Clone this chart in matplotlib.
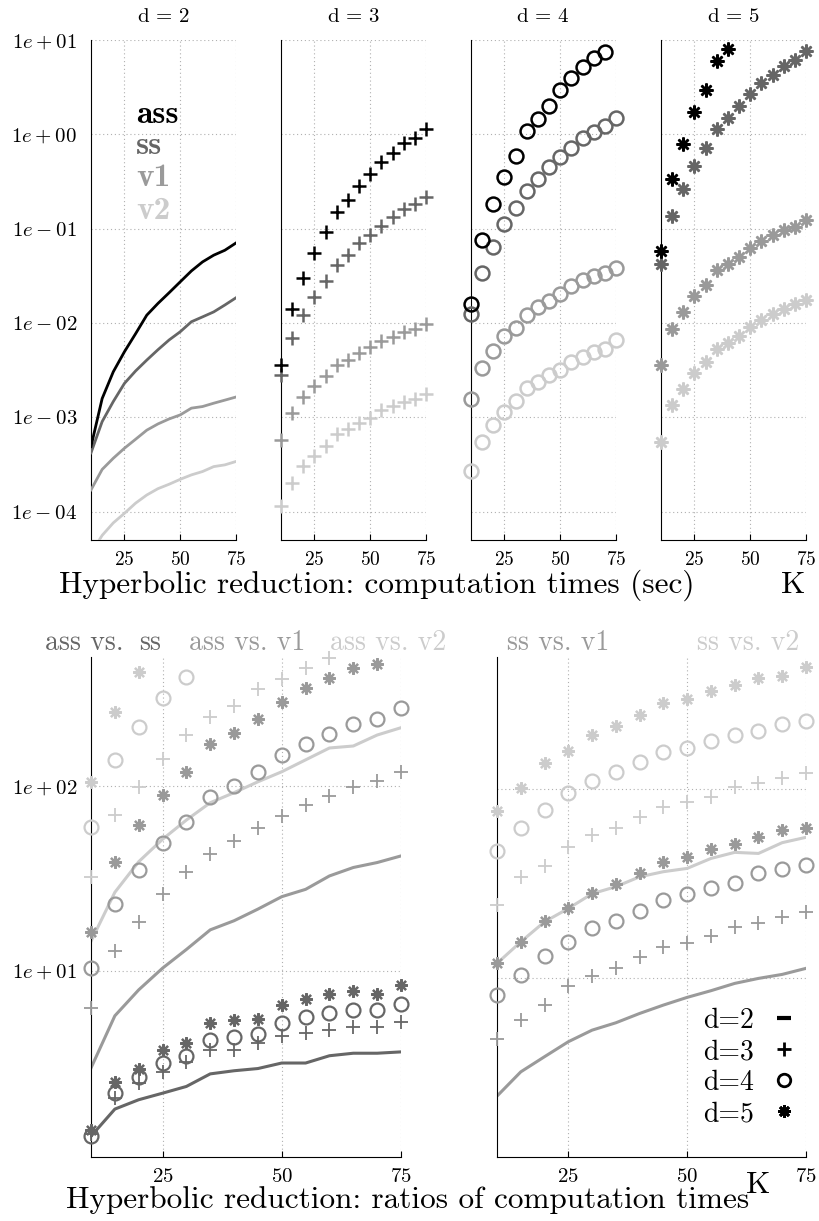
import numpy as np
import matplotlib
matplotlib.use("Agg")
import matplotlib.pyplot as plt
from matplotlib.lines import Line2D
from matplotlib.ticker import NullLocator

plt.rcParams['font.family'] = ['cmr10']
plt.rcParams['mathtext.fontset'] = 'cm'
plt.rcParams['axes.unicode_minus'] = False
plt.rcParams['axes.formatter.use_mathtext'] = True

# number of clusters K
K = [10, 15, 20, 25, 30, 35, 40, 45, 50, 55, 60, 65, 70, 75]

# computation times (sec), one list per method and dimension
time_ass_d2 = [4.9e-4, 1.58e-3, 3.04e-3, 4.96e-3, 7.7e-3, 0.0121, 0.0161, 0.0209, 0.0273, 0.0356, 0.0444, 0.0523, 0.059, 0.0705]
time_ss_d2 = [4.2e-4, 9.0e-4, 1.47e-3, 2.29e-3, 3.1e-3, 4.04e-3, 5.2e-3, 6.6e-3, 8.07e-3, 0.0103, 0.0116, 0.0131, 0.0155, 0.0185]
time_v1_d2 = [1.7e-4, 2.8e-4, 3.68e-4, 4.7e-4, 5.85e-4, 7.3e-4, 8.5e-4, 9.6e-4, 1.06e-3, 1.25e-3, 1.3e-3, 1.41e-3, 1.52e-3, 1.64e-3]
time_v2_d2 = [3.6e-5, 5.6e-5, 7.6e-5, 9.6e-5, 1.23e-4, 1.5e-4, 1.75e-4, 1.95e-4, 2.2e-4, 2.45e-4, 2.66e-4, 3.0e-4, 3.13e-4, 3.4e-4]

time_ass_d3 = [3.6e-3, 0.0141, 0.0298, 0.0547, 0.0927, 0.151, 0.202, 0.284, 0.384, 0.51, 0.63, 0.80, 0.91, 1.15]
time_ss_d3 = [2.78e-3, 6.9e-3, 0.012, 0.019, 0.0281, 0.0412, 0.053, 0.0698, 0.0855, 0.107, 0.134, 0.161, 0.182, 0.214]
time_v1_d3 = [5.8e-4, 1.12e-3, 1.64e-3, 2.13e-3, 2.72e-3, 3.55e-3, 4.0e-3, 4.8e-3, 5.55e-3, 6.4e-3, 7.1e-3, 8.0e-3, 8.7e-3, 9.8e-3]
time_v2_d3 = [1.15e-4, 2.02e-4, 3.03e-4, 3.87e-4, 4.94e-4, 6.7e-4, 7.5e-4, 8.7e-4, 9.8e-4, 1.19e-3, 1.31e-3, 1.45e-3, 1.58e-3, 1.78e-3]

time_ass_d4 = [0.016, 0.076, 0.182, 0.357, 0.59, 1.08, 1.44, 1.99, 2.94, 3.97, 5.14, 6.45, 7.47, 10.1]
time_ss_d4 = [0.01255, 0.034, 0.0645, 0.112, 0.165, 0.252, 0.335, 0.452, 0.576, 0.723, 0.908, 1.07, 1.22, 1.48]
time_v1_d4 = [1.56e-3, 3.3e-3, 5.0e-3, 7.3e-3, 8.86e-3, 0.012, 0.0148, 0.0171, 0.0204, 0.0244, 0.0282, 0.0311, 0.0337, 0.0384]
time_v2_d4 = [2.7e-4, 5.5e-4, 8.3e-4, 1.15e-3, 1.5e-3, 2.02e-3, 2.38e-3, 2.8e-3, 3.21e-3, 3.87e-3, 4.37e-3, 4.94e-3, 5.36e-3, 6.56e-3]

time_ass_d5 = [0.0586, 0.34, 0.796, 1.74, 2.94, 5.95, 8.1, 11.4, 17.3, 24.2, 32.0, 40.9, 45.6, 63.6]
time_ss_d5 = [0.0423, 0.135, 0.262, 0.463, 0.723, 1.13, 1.48, 1.99, 2.65, 3.46, 4.3, 5.27, 6.1, 7.6]
time_v1_d5 = [3.57e-3, 8.7e-3, 0.0131, 0.0193, 0.025, 0.0366, 0.0423, 0.0498, 0.062, 0.0734, 0.0865, 0.0968, 0.103, 0.124]
time_v2_d5 = [5.5e-4, 1.35e-3, 1.98e-3, 2.92e-3, 3.81e-3, 5.36e-3, 6.15e-3, 7.23e-3, 9.08e-3, 0.0107, 0.0124, 0.0142, 0.0157, 0.0176]

# ratios of computation times
ratio_ass_ss_d2 = [1.27, 1.78, 2.0, 2.17, 2.36, 2.76, 2.87, 2.95, 3.16, 3.16, 3.46, 3.57, 3.57, 3.63]
ratio_ass_ss_d3 = [1.3, 2.05, 2.46, 2.84, 3.22, 3.72, 3.72, 4.05, 4.43, 4.62, 4.74, 4.98, 4.98, 5.3]
ratio_ass_ss_d4 = [1.27, 2.17, 2.65, 3.16, 3.46, 4.22, 4.35, 4.55, 5.19, 5.64, 5.88, 6.13, 6.13, 6.6]
ratio_ass_ss_d5 = [1.38, 2.48, 2.94, 3.72, 4.08, 5.19, 5.37, 5.46, 6.52, 7.0, 7.45, 7.76, 7.48, 8.37]

ratio_ass_v1_d2 = [2.97, 5.69, 7.86, 10.3, 13.0, 16.6, 18.6, 21.5, 25.1, 27.5, 32.5, 36.1, 38.4, 41.7]
ratio_ass_v1_d3 = [6.25, 12.7, 18.2, 26.1, 34.0, 42.8, 50.5, 59.3, 68.6, 78.6, 87.9, 98.8, 106, 119]
ratio_ass_v1_d4 = [10.3, 22.9, 34.8, 48.8, 63.8, 86.5, 100, 119, 147, 168, 190, 215, 231, 262]
ratio_ass_v1_d5 = [16.1, 38.8, 61.2, 89, 118, 168, 194, 229, 284, 336, 384, 431, 458, 540]

ratio_ass_v2_d2 = [14.4, 26.5, 38.8, 51.3, 65.2, 80.9, 91.7, 105, 119, 138, 160, 164, 188, 206]
ratio_ass_v2_d3 = [32.2, 69.4, 98, 140, 189, 234, 270, 332, 380, 431, 488, 552, 576, 646]
ratio_ass_v2_d4 = [59.6, 137, 207, 300, 388, 527, 605, 710, 915, 1030, 1180, 1300, 1390, 1580]
ratio_ass_v2_d5 = [105, 251, 413, 596, 772, 1110, 1320, 1580, 1900, 2260, 2580, 2880, 2900, 3600]

ratio_ss_v1_d2 = [2.39, 3.21, 3.86, 4.63, 5.33, 5.83, 6.53, 7.23, 7.94, 8.61, 9.41, 10.0, 10.5, 11.3]
ratio_ss_v1_d3 = [4.77, 6.03, 7.23, 9.11, 10.3, 11.4, 13.0, 14.7, 15.4, 16.7, 18.6, 19.7, 21.0, 22.3]
ratio_ss_v1_d4 = [8.17, 10.4, 13.1, 15.6, 18.4, 20.2, 22.8, 25.9, 27.9, 29.9, 32.0, 35.9, 37.7, 39.7]
ratio_ss_v1_d5 = [12.0, 15.6, 20.2, 23.4, 28.4, 31.5, 35.9, 41.3, 43.5, 48.0, 51.0, 56.0, 60.7, 62.0]

ratio_ss_v2_d2 = [12.0, 15.6, 19.9, 23.4, 28.0, 30.5, 34.4, 36.6, 38.1, 43.0, 46.3, 45.7, 52.1, 55.6]
ratio_ss_v2_d3 = [24.4, 34.4, 39.2, 49.5, 57.1, 62.0, 70.8, 80.7, 85.8, 91.1, 102, 108, 114, 122]
ratio_ss_v2_d4 = [47.2, 62.0, 77.4, 94.8, 110, 123, 139, 157, 165, 179, 193, 203, 220, 230]
ratio_ss_v2_d5 = [76.9, 101, 137, 159, 193, 215, 246, 283, 298, 331, 354, 384, 395, 443]

BLACK, DARK, MID, LIGHT = '#000000', '#666666', '#9a9a9a', '#cccccc'
STAR = (8, 2, 0)

W, H = 819, 1221
fig = plt.figure(figsize=(W / 100, H / 100), dpi=100)


def px_axes(x0, y0, x1, y1):
    # axes placed with pixel coordinates (origin top left)
    return fig.add_axes([x0 / W, 1 - y1 / H, (x1 - x0) / W, (y1 - y0) / H])


def style_axes(ax, ylim, yticks, ylabels, fs):
    ax.set_yscale('log')
    ax.set_xlim(10, 75)
    ax.set_ylim(*ylim)
    for side in ['top', 'right']:
        ax.spines[side].set_visible(False)
    for side in ['left', 'bottom']:
        ax.spines[side].set_linewidth(0.8)
    ax.set_xticks([25, 50, 75])
    ax.set_xticklabels(['$25$', '$50$', '$75$'], fontsize=fs)
    ax.set_yticks(yticks)
    ax.set_yticklabels(ylabels, fontsize=15)
    ax.yaxis.set_minor_locator(NullLocator())
    ax.tick_params(axis='y', length=0, pad=10)
    ax.tick_params(axis='x', direction='in', length=4, width=0.8, pad=8)
    ax.grid(True, linestyle=(0, (1, 2.5)), color='#b0b0b0', linewidth=0.8)
    ax.set_axisbelow(True)


def draw_marks(ax, y, color, marker, ms, mew, ylim):
    # markers outside the y range are left out, the rest may overlap the spine
    y = np.array(y, dtype=float)
    y = np.where((y >= ylim[0]) & (y <= ylim[1]), y, np.nan)
    ax.plot(K, y, linestyle='none', marker=marker, ms=ms, mew=mew,
            mec=color, mfc='none', clip_on=False, zorder=3)


# ---------------- top row: computation times ----------------
top_ylim = (5e-5, 10)
top_ticks = [1e-4, 1e-3, 1e-2, 1e-1, 1, 10]
top_labels = ['$1e-04$', '$1e-03$', '$1e-02$', '$1e-01$', '$1e+00$', '$1e+01$']

time_sets = [
    [time_ass_d2, time_ss_d2, time_v1_d2, time_v2_d2],
    [time_ass_d3, time_ss_d3, time_v1_d3, time_v2_d3],
    [time_ass_d4, time_ss_d4, time_v1_d4, time_v2_d4],
    [time_ass_d5, time_ss_d5, time_v1_d5, time_v2_d5],
]
colors = [BLACK, DARK, MID, LIGHT]
markers = [None, '+', 'o', STAR]
sizes = [0, 10, 10, 10]

for i, series in enumerate(time_sets):
    x0 = 91 + 190 * i
    ax = px_axes(x0, 40, x0 + 145, 540)
    style_axes(ax, top_ylim, top_ticks, top_labels if i == 0 else [''] * 6, 14)
    for vals, col in zip(series[::-1], colors[::-1]):
        if markers[i] is None:
            ax.plot(K, vals, color=col, linewidth=2.0, solid_joinstyle='round', zorder=3)
        else:
            draw_marks(ax, vals, col, markers[i], sizes[i], 1.8, top_ylim)
    fig.text((x0 + 72) / W, 1 - 17 / H, r'$\mathrm{d}\,=\,%d$' % (i + 2),
             ha='center', va='center', fontsize=15)
    if i == 0:
        for name, col, yy in zip(['ass', 'ss', 'v1', 'v2'], colors, [0.834, 0.772, 0.708, 0.642]):
            ax.text(0.31, yy, name, transform=ax.transAxes, color=col,
                    fontfamily='cmb10', fontsize=24, va='baseline', ha='left')

fig.text(377 / W, 1 - 585 / H, 'Hyperbolic reduction: computation times (sec)',
         ha='center', va='center', fontsize=22.5)
fig.text(793 / W, 1 - 585 / H, 'K', ha='center', va='center', fontsize=22.5)

# ---------------- bottom row: ratios ----------------
left_ylim = (0.98, 497)
right_ylim = (1.14, 498)

axl = px_axes(91, 657, 401, 1157)
style_axes(axl, left_ylim, [10, 100], ['$1e+01$', '$1e+02$'], 15)
axr = px_axes(497, 657, 806, 1157)
style_axes(axr, right_ylim, [10, 100], ['', ''], 15)

left_groups = [
    (LIGHT, [ratio_ass_v2_d2, ratio_ass_v2_d3, ratio_ass_v2_d4, ratio_ass_v2_d5]),
    (MID, [ratio_ass_v1_d2, ratio_ass_v1_d3, ratio_ass_v1_d4, ratio_ass_v1_d5]),
    (DARK, [ratio_ass_ss_d2, ratio_ass_ss_d3, ratio_ass_ss_d4, ratio_ass_ss_d5]),
]
right_groups = [
    (LIGHT, [ratio_ss_v2_d2, ratio_ss_v2_d3, ratio_ss_v2_d4, ratio_ss_v2_d5]),
    (MID, [ratio_ss_v1_d2, ratio_ss_v1_d3, ratio_ss_v1_d4, ratio_ss_v1_d5]),
]

for ax, groups, ylim in [(axl, left_groups, left_ylim), (axr, right_groups, right_ylim)]:
    for col, (r2, r3, r4, r5) in groups:
        ax.plot(K, r2, color=col, linewidth=2.2, zorder=2)
        draw_marks(ax, r3, col, '+', 10, 1.3, ylim)
        draw_marks(ax, r4, col, 'o', 10, 1.6, ylim)
        draw_marks(ax, r5, col, STAR, 9, 1.6, ylim)

# series titles above the ratio panels
for txt, col, xl in [('ass vs.', DARK, 45), ('ss', DARK, 139), ('ass vs. v1', MID, 189),
                     ('ass vs. v2', LIGHT, 330), ('ss vs. v1', MID, 507), ('ss vs. v2', LIGHT, 697)]:
    fig.text(xl / W, 1 - 650 / H, txt, color=col, ha='left', va='baseline', fontsize=20)

# symbol key
handles = [
    Line2D([], [], linestyle='none', marker='_', ms=10, mew=3, color=BLACK),
    Line2D([], [], linestyle='none', marker='+', ms=10, mew=2, color=BLACK),
    Line2D([], [], linestyle='none', marker='o', ms=9, mew=2, mfc='none', mec=BLACK),
    Line2D([], [], linestyle='none', marker=STAR, ms=9, mew=2, mec=BLACK),
]
axr.legend(handles, ['d=2', 'd=3', 'd=4', 'd=5'], loc='lower right', bbox_to_anchor=(1.02, 0.032),
           frameon=False, markerfirst=False, handlelength=1.0, handletextpad=0.6,
           labelspacing=0.17, fontsize=20, borderpad=0)

fig.text(408 / W, 1 - 1200 / H, 'Hyperbolic reduction: ratios of computation times',
         ha='center', va='center', fontsize=22.5)
fig.text(758 / W, 1 - 1185 / H, 'K', ha='center', va='center', fontsize=22.5)

fig.savefig('out.png', dpi=100)
